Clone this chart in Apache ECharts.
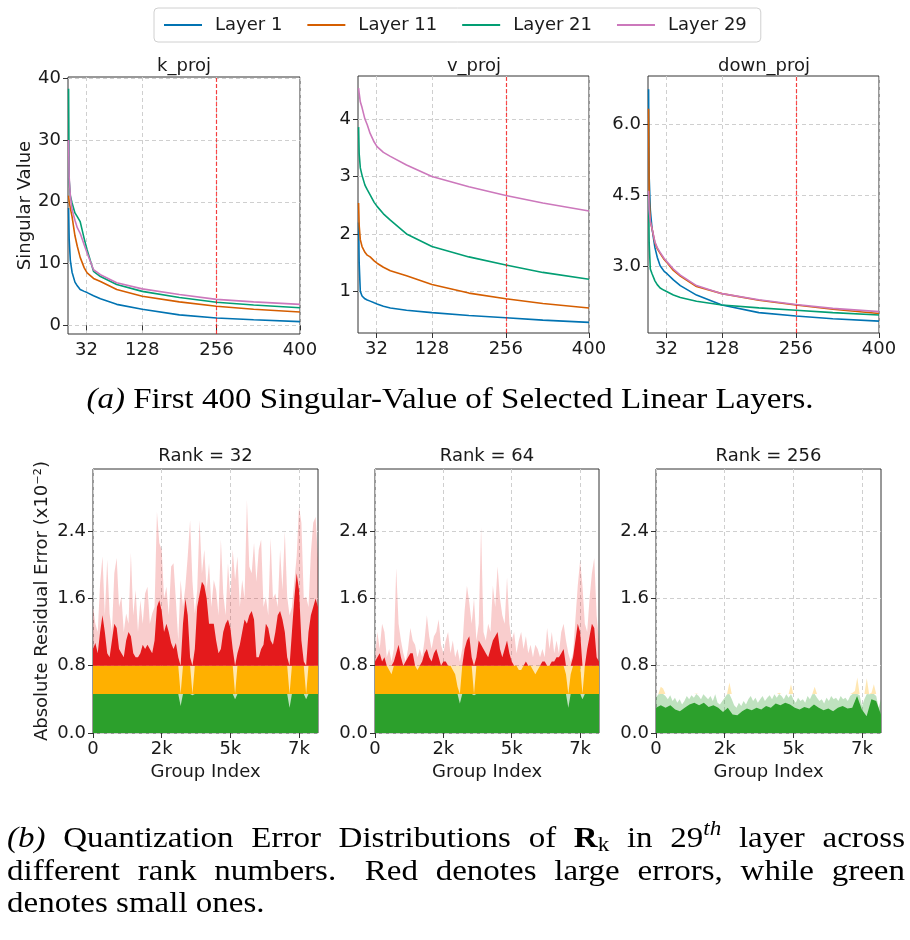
<!DOCTYPE html>
<html><head><meta charset="utf-8">
<script src="https://cdn.jsdelivr.net/npm/echarts@6/dist/echarts.min.js"></script>
<style>html,body{margin:0;padding:0;background:#fff}#c{width:910px;height:940px}</style>
</head><body><div id="c"></div>
<script>
// ---------- data: singular values (top row) ----------
const svX = [1, 2, 4, 7, 12, 16, 21, 28, 33, 44, 56, 84, 128, 192, 256, 320, 400];
const svTicks = [32, 128, 256, 400];
const layerNames = ['Layer 1', 'Layer 11', 'Layer 21', 'Layer 29'];

const kProjL1  = [19, 14, 10.5, 8.6, 7.0, 6.4, 5.8, 5.5, 5.3, 4.8, 4.3, 3.4, 2.6, 1.7, 1.2, 0.9, 0.6];
const kProjL11 = [21, 20, 19, 17.6, 14.5, 12.8, 11, 9.3, 8.5, 7.6, 7.1, 5.8, 4.7, 3.8, 3.1, 2.6, 2.15];
const kProjL21 = [38.3, 23.5, 21, 19.8, 18.2, 17.6, 16.8, 14, 12.2, 8.75, 7.9, 6.6, 5.5, 4.5, 3.75, 3.3, 2.85];
const kProjL29 = [30, 24, 21, 18.7, 17, 15.8, 14.9, 13, 11.7, 9.0, 8.2, 6.9, 5.9, 5.0, 4.2, 3.8, 3.4];
const kTicks = [0, 10, 20, 30, 40];

const vProjL1  = [2.2, 1.5, 1.0, 0.92, 0.87, 0.85, 0.83, 0.8, 0.78, 0.74, 0.71, 0.67, 0.63, 0.58, 0.54, 0.50, 0.46];
const vProjL11 = [2.54, 2.15, 1.9, 1.78, 1.68, 1.63, 1.6, 1.53, 1.49, 1.42, 1.36, 1.27, 1.12, 0.97, 0.87, 0.79, 0.71];
const vProjL21 = [3.86, 3.4, 3.15, 3.02, 2.85, 2.77, 2.68, 2.55, 2.48, 2.35, 2.24, 2.0, 1.78, 1.6, 1.46, 1.33, 1.21];
const vProjL29 = [4.54, 4.45, 4.3, 4.2, 4.0, 3.9, 3.75, 3.6, 3.52, 3.42, 3.35, 3.2, 3.0, 2.82, 2.67, 2.54, 2.40];
const vTicks = [1, 2, 3, 4];

const dProjL1  = [6.74, 4.9, 4.2, 3.8, 3.4, 3.2, 3.02, 2.9, 2.85, 2.72, 2.6, 2.4, 2.19, 2.03, 1.96, 1.9, 1.85];
const dProjL11 = [6.33, 4.5, 3.95, 3.8, 3.5, 3.38, 3.28, 3.15, 3.08, 2.92, 2.8, 2.58, 2.43, 2.29, 2.19, 2.1, 2.01];
const dProjL21 = [4.5, 3.5, 2.95, 2.85, 2.7, 2.62, 2.55, 2.5, 2.47, 2.4, 2.35, 2.27, 2.19, 2.13, 2.08, 2.03, 1.98];
const dProjL29 = [4.6, 4.2, 3.95, 3.8, 3.52, 3.4, 3.3, 3.17, 3.1, 2.95, 2.82, 2.6, 2.43, 2.3, 2.2, 2.12, 2.05];
const dTicks = [3.0, 4.5, 6.0];

// ---------- data: residual errors (bottom row) ----------
const groupCount = 8192;
const groupTicks = [0, 2500, 5000, 7500];
const groupTickLabels = ['0', '2k', '5k', '7k'];
const errTicks = [0, 0.8, 1.6, 2.4];
const thrLow = 0.465, thrHigh = 0.8;

const peak32 = [1.5,1.3,1.2,1.78,2.1,1.4,2.06,1.42,1.2,1.9,
 2.08,1.5,1.62,1.2,1.42,1.3,2.14,1.4,1.7,1.2,
 1.58,1.3,1.66,1.74,1.3,1.42,1.5,2.63,2.26,2.18,
 1.6,1.74,1.4,1.98,2.02,1.58,1.1,1.82,1.5,1.74,
 2.1,2.53,1.8,1.42,1.7,2.53,1.9,2.18,1.7,2.02,
 1.5,1.82,1.7,1.4,2.3,1.66,1.4,2.02,1.6,2.18,
 1.82,2.1,1.5,1.82,1.6,2.77,1.98,1.9,2.26,1.8,
 2.18,2.3,1.5,1.62,1.4,2.32,1.6,1.66,1.5,2.18,
 1.7,2.4,1.62,1.4,1.5,1.8,2.1,2.69,2.5,1.6,
 1.62,1.5,2.14,2.5,2.57,2.06];
const core32 = [1.0,1.07,0.95,1.2,1.4,1.2,0.95,0.9,1.1,1.3,
 1.25,1.0,0.95,0.9,1.1,1.2,1.15,0.95,0.9,0.9,
 0.95,1.05,1.0,1.05,1.0,0.95,1.1,1.5,1.58,1.45,
 1.2,1.3,1.2,1.07,1.0,1.07,0.9,0.32,1.3,1.6,
 1.4,0.9,0.45,1.0,1.5,1.65,1.8,1.75,1.6,1.3,
 1.3,1.3,1.1,0.95,1.0,1.2,1.3,1.35,1.25,1.0,
 0.4,0.95,1.05,1.2,1.35,1.3,1.4,1.45,1.35,0.9,
 0.9,1.0,1.05,1.3,1.25,1.1,1.05,1.2,1.4,1.45,
 1.35,1.2,0.9,0.3,1.2,1.6,1.9,1.7,1.1,0.85,
 0.4,1.2,1.4,1.5,1.6,1.5];

const peak64 = [0.9,1.2,1.0,1.3,1.2,0.9,1.0,0.85,1.0,1.96,
 1.3,1.1,0.95,0.85,1.0,1.25,1.1,1.05,0.9,1.0,
 0.9,1.1,1.4,1.15,1.0,1.15,1.2,1.35,1.05,0.95,
 1.1,1.2,0.95,1.1,0.9,1.0,0.85,1.0,1.45,1.75,
 1.55,1.3,1.6,1.1,1.3,2.45,1.2,1.1,1.3,1.2,
 1.75,1.5,1.98,1.6,1.4,1.3,1.85,1.3,1.1,1.2,
 0.95,1.1,1.2,1.0,1.15,0.95,1.05,0.9,1.05,1.0,
 0.9,1.0,0.9,1.25,1.0,1.2,0.95,1.1,0.95,1.2,
 1.3,1.1,0.95,0.85,0.95,1.35,1.75,2.05,1.75,1.3,
 1.2,1.6,1.9,2.08,1.4,1.1];
const core64 = [0.85,0.9,0.95,0.85,0.9,0.8,0.75,0.7,0.85,0.95,
 1.05,0.9,0.8,0.85,0.9,0.95,0.95,0.8,0.75,0.8,
 0.85,0.95,1.0,0.9,0.85,0.95,1.0,0.9,0.8,0.85,
 0.85,0.8,0.8,0.75,0.7,0.55,0.35,0.8,1.0,1.1,
 1.15,0.9,0.45,0.9,1.1,1.05,1.0,0.95,0.9,1.0,
 1.1,1.15,1.2,1.0,0.9,1.0,1.1,0.95,0.85,0.8,
 0.8,0.75,0.75,0.8,0.85,0.8,0.8,0.75,0.7,0.75,
 0.8,0.85,0.85,0.8,0.8,0.85,0.85,0.9,0.9,0.95,
 1.0,0.7,0.3,0.7,0.9,1.1,1.3,1.2,0.4,0.8,
 1.0,1.15,1.3,1.25,0.9,0.85];

const peak256 = [0.42,0.46,0.55,0.53,0.44,0.40,0.45,0.38,0.42,0.36,
 0.40,0.34,0.38,0.44,0.40,0.45,0.42,0.47,0.44,0.40,
 0.46,0.43,0.40,0.44,0.38,0.46,0.36,0.34,0.38,0.42,
 0.46,0.60,0.40,0.33,0.30,0.36,0.32,0.38,0.34,0.40,
 0.44,0.38,0.42,0.36,0.40,0.44,0.38,0.42,0.45,0.40,
 0.46,0.42,0.48,0.44,0.40,0.46,0.42,0.58,0.40,0.36,
 0.42,0.38,0.40,0.36,0.44,0.40,0.46,0.55,0.42,0.38,
 0.40,0.35,0.42,0.38,0.44,0.40,0.42,0.38,0.44,0.40,
 0.42,0.38,0.44,0.48,0.50,0.66,0.45,0.32,0.40,0.65,
 0.46,0.48,0.58,0.44,0.30,0.40];
const core256 = [0.30,0.33,0.30,0.33,0.28,0.26,0.30,0.34,0.36,0.33,
 0.36,0.31,0.33,0.30,0.25,0.30,0.22,0.21,0.26,0.29,
 0.27,0.30,0.28,0.32,0.30,0.35,0.33,0.36,0.34,0.30,
 0.28,0.31,0.29,0.34,0.30,0.27,0.29,0.26,0.30,0.32,
 0.29,0.30,0.44,0.28,0.20,0.40,0.38,0.22];

// ---------- styling ----------
const lineColors = ['#0173b2', '#d55e00', '#029e73', '#cc78bc'];
const cGreen = '#2ca02c', cOrange = '#ffb000', cRed = '#e41a1c';
const FONT = 'DejaVu Sans';
const SERIF = 'Liberation Serif';
const txt = '#1a1a1a';

const topGrids = [
  {left: 68, top: 77, width: 232, height: 257},
  {left: 358, top: 76, width: 231, height: 257},
  {left: 648, top: 76, width: 231, height: 257}
];
const botGrids = [
  {left: 93, top: 469, width: 225, height: 264},
  {left: 375, top: 469, width: 224, height: 264},
  {left: 656, top: 469, width: 225, height: 264}
];
const grids = topGrids.concat(botGrids).map(g => Object.assign({show: true, borderColor: '#333', borderWidth: 1, backgroundColor: 'rgba(0,0,0,0)'}, g));

const gridLine = {show: true, lineStyle: {color: '#cfcfcf', width: 1, type: [4, 3]}};
function xAx(gi, min, max, ticks, fmt, name) {
  return {gridIndex: gi, type: 'value', min, max,
    axisLine: {show: false},
    axisTick: {show: true, length: 5, lineStyle: {color: '#333'}, customValues: ticks},
    axisLabel: {customValues: ticks, formatter: fmt, fontSize: 18, fontFamily: FONT, color: txt, margin: 7},
    splitLine: gridLine,
    name: name || '', nameLocation: 'middle', nameGap: 30,
    nameTextStyle: {fontSize: 18, fontFamily: FONT, color: txt}};
}
function yAx(gi, min, max, ticks, fmt, name, gap) {
  return {gridIndex: gi, type: 'value', min, max,
    axisLine: {show: false},
    axisTick: {show: true, length: 5, lineStyle: {color: '#333'}, customValues: ticks},
    axisLabel: {customValues: ticks, formatter: fmt, fontSize: 18, fontFamily: FONT, color: txt, margin: 7},
    splitLine: gridLine,
    name: name || '', nameLocation: 'middle', nameGap: gap || 30, nameRotate: 90,
    nameTextStyle: {fontSize: 18, fontFamily: FONT, color: txt}};
}
const fInt = v => String(Math.round(v));
const f1 = v => v.toFixed(1);
const groupFmt = v => groupTickLabels[groupTicks.indexOf(v)] ?? '';

const xAxes = [
  xAx(0, 0, 400, svTicks, fInt), xAx(1, 0, 400, svTicks, fInt), xAx(2, 0, 400, svTicks, fInt),
  xAx(3, 0, groupCount, groupTicks, groupFmt, 'Group Index'),
  xAx(4, 0, groupCount, groupTicks, groupFmt, 'Group Index'),
  xAx(5, 0, groupCount, groupTicks, groupFmt, 'Group Index')
];
const yAxes = [
  yAx(0, -1.4, 40.2, kTicks, fInt, 'Singular Value', 34),
  yAx(1, 0.275, 4.75, vTicks, fInt),
  yAx(2, 1.6, 7.02, dTicks, f1),
  yAx(3, 0, 3.14, errTicks, f1, 'Absolute Residual Error (x10\u207B\u00B2)', 42),
  yAx(4, 0, 3.14, errTicks, f1),
  yAx(5, 0, 3.14, errTicks, f1)
];

const series = [];
function addLines(gi, arrs) {
  arrs.forEach((ys, k) => {
    const s = {type: 'line', name: layerNames[k], xAxisIndex: gi, yAxisIndex: gi,
      data: svX.map((x, i) => [x, ys[i]]), symbol: 'none', showSymbol: false,
      lineStyle: {color: lineColors[k], width: 1.6}, itemStyle: {color: lineColors[k]}, z: 3};
    if (k === 0) {
      s.markLine = {silent: true, symbol: ['none', 'none'], label: {show: false},
        lineStyle: {color: '#ff0000', type: [4, 2], width: 1.2, opacity: 0.7},
        emphasis: {disabled: true}, data: [{xAxis: 256}]};
    }
    series.push(s);
  });
}
addLines(0, [kProjL1, kProjL11, kProjL21, kProjL29]);
addLines(1, [vProjL1, vProjL11, vProjL21, vProjL29]);
addLines(2, [dProjL1, dProjL11, dProjL21, dProjL29]);

function band(gi, vals, lo, hi, color, opacity) {
  const n = vals.length;
  series.push({type: 'line', name: 'band', xAxisIndex: gi, yAxisIndex: gi, symbol: 'none', showSymbol: false, silent: true,
    data: vals.map((v, i) => [(groupCount - 1) * i / (n - 1), Math.min(Math.max(v, lo), hi)]),
    lineStyle: {width: 0, opacity: 0}, areaStyle: {color, opacity, origin: lo}, z: 2});
}
function addErr(gi, peak, core) {
  band(gi, peak, 0, thrLow, cGreen, 0.3);
  band(gi, peak, thrLow, thrHigh, cOrange, 0.3);
  band(gi, peak, thrHigh, 10, cRed, 0.22);
  band(gi, core, 0, thrLow, cGreen, 1);
  band(gi, core, thrLow, thrHigh, cOrange, 1);
  band(gi, core, thrHigh, 10, cRed, 1);
}
addErr(3, peak32, core32);
addErr(4, peak64, core64);
addErr(5, peak256, core256);

// ---------- texts ----------
const graphics = [];
function title(t, x, y) {
  graphics.push({type: 'text', x, y, silent: true, style: {text: t, fontSize: 18, fontFamily: FONT, fill: txt,
    align: 'center', verticalAlign: 'middle', textAlign: 'center', textVerticalAlign: 'middle'}});
}
title('k_proj', 184, 66); title('v_proj', 474, 66); title('down_proj', 764, 66);
title('Rank = 32', 205.5, 456); title('Rank = 64', 487, 456); title('Rank = 256', 768.5, 456);

const capFs = 30, capSX = 1.1;
const ctx = document.createElement('canvas').getContext('2d');
function fontStr(seg, fs) {
  return (seg.it ? 'italic ' : '') + (seg.b ? 'bold ' : '') + fs + 'px "' + SERIF + '"';
}
function segW(seg, fs) { ctx.font = fontStr(seg, fs); return ctx.measureText(seg.t).width * capSX; }
function segSize(seg, fs) { return (seg.sub || seg.sup) ? fs * 0.7 : fs; }
function wordW(word, fs) { return word.reduce((a, s) => a + segW(s, segSize(s, fs)), 0); }
function putWord(word, x, y, fs) {
  word.forEach(s => {
    const sz = segSize(s, fs);
    const dy = s.sup ? -fs * 0.33 : (s.sub ? fs * 0.22 : 0);
    graphics.push({type: 'text', x, y: y + dy, scaleX: capSX, silent: true, style: {text: s.t, fontSize: sz, fontFamily: SERIF,
      fontStyle: s.it ? 'italic' : 'normal', fontWeight: s.b ? 'bold' : 'normal', fill: '#000',
      align: 'left', verticalAlign: 'middle', textAlign: 'left', textVerticalAlign: 'middle'}});
    x += segW(s, sz);
  });
}
function putLine(words, x0, x1, y, fs, justify, gapWeights) {
  const ws = words.map(w => wordW(w, fs));
  const total = ws.reduce((a, b) => a + b, 0);
  const weights = gapWeights || words.slice(1).map(() => 1);
  const wsum = weights.reduce((a, b) => a + b, 0);
  const spaceW = segW({t: ' '}, fs);
  const unit = justify ? (x1 - x0 - total) / wsum : spaceW;
  let x = x0;
  words.forEach((w, i) => {
    putWord(w, x, y, fs);
    x += ws[i] + (i < weights.length ? unit * weights[i] : 0);
  });
}
function putCentered(words, cx, y, fs) {
  const spaceW = segW({t: ' '}, fs);
  const total = words.reduce((a, w) => a + wordW(w, fs), 0) + spaceW * (words.length - 1);
  putLine(words, cx - total / 2, cx + total / 2, y, fs, false);
}

const capA = [[{t: '(a)', it: 1}], [{t: 'First'}], [{t: '400'}], [{t: 'Singular-Value'}], [{t: 'of'}],
  [{t: 'Selected'}], [{t: 'Linear'}], [{t: 'Layers.'}]];
const capB1 = [[{t: '(b)', it: 1}], [{t: 'Quantization'}], [{t: 'Error'}], [{t: 'Distributions'}], [{t: 'of'}],
  [{t: 'R', b: 1}, {t: 'k', sub: 1}], [{t: 'in'}], [{t: '29'}, {t: 'th', sup: 1, it: 1}], [{t: 'layer'}], [{t: 'across'}]];
const capB2 = [[{t: 'different'}], [{t: 'rank'}], [{t: 'numbers.'}], [{t: 'Red'}], [{t: 'denotes'}], [{t: 'large'}],
  [{t: 'errors,'}], [{t: 'while'}], [{t: 'green'}]];
const capB3 = [[{t: 'denotes'}], [{t: 'small'}], [{t: 'ones.'}]];

putCentered(capA, 450, 400, capFs);
putLine(capB1, 7, 905, 839, capFs, true);
putLine(capB2, 7, 905, 872, capFs, true, [1, 1, 1.6, 1, 1, 1, 1, 1]);
putLine(capB3, 7, 905, 904, capFs, false);

const option = {
  animation: false,
  backgroundColor: '#fff',
  legend: {data: layerNames, left: 154, top: 8, padding: [8, 14, 8, 10], itemWidth: 38, itemHeight: 2, itemGap: 25,
    icon: 'rect', borderColor: '#d0d0d0', borderWidth: 1, borderRadius: 4,
    textStyle: {fontSize: 18, fontFamily: FONT, color: txt, padding: [0, 0, 0, 8]}},
  grid: grids, xAxis: xAxes, yAxis: yAxes, series, graphic: graphics
};
const chart = echarts.init(document.getElementById('c'), null, {renderer: 'canvas'});
chart.setOption(option);
</script></body></html>
